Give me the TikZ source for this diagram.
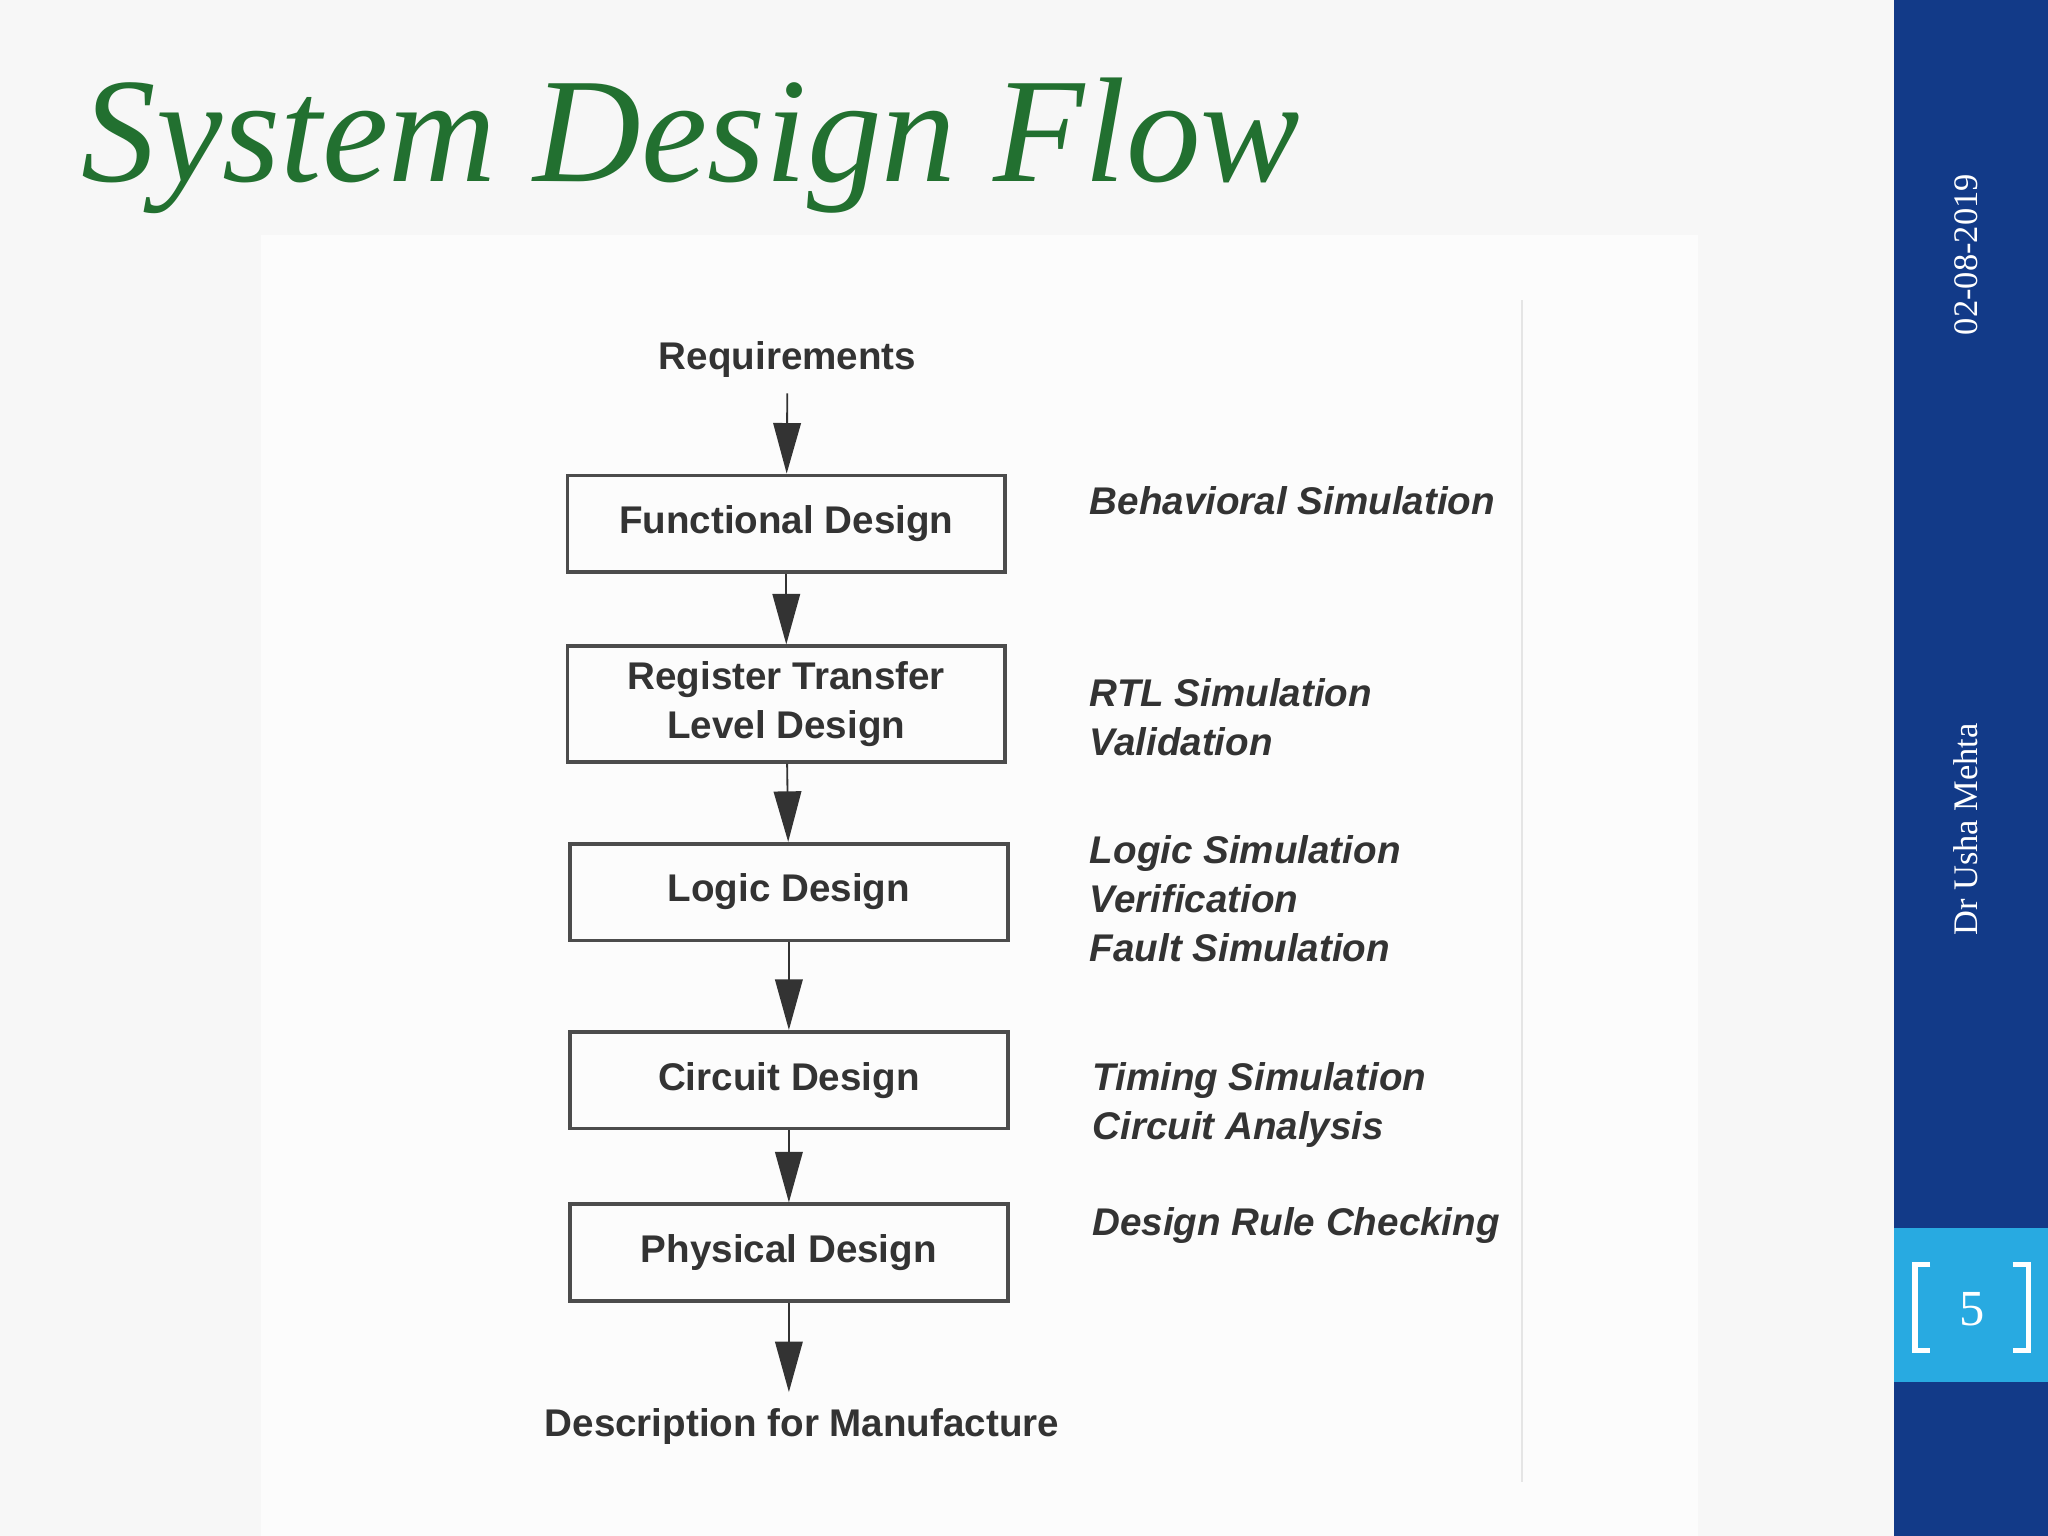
\documentclass[tikz,border=0pt]{standalone}
\usepackage{fontspec}
\setmainfont{Liberation Sans}
\newfontfamily\titlefont{Liberation Serif}
\usetikzlibrary{positioning,arrows.meta}
\definecolor{titlegreen}{RGB}{34,112,48}
\definecolor{bandblue}{RGB}{18,58,136}
\definecolor{pageblue}{RGB}{40,170,225}
\begin{document}
\begin{tikzpicture}[x=0.01cm,y=-0.01cm,
    stage/.style={draw=black!70, thick, minimum width=3.35cm, minimum height=0.74cm, align=center, font=\fontsize{8.4}{10}\selectfont\bfseries, text=black!80},
    note/.style={anchor=west, align=left, font=\fontsize{8.4}{10.6}\selectfont\bfseries\itshape, text=black!80},
    flow/.style={-{Triangle[length=11pt,width=6pt]}, black!80}]
    
    % background and side band
    \fill[black!3] (0,0) rectangle (1568,1176);
    \fill[black!1] (200,180) rectangle (1300,1176);
    \draw[black!10] (1165,230) -- (1165,1135);
    \fill[bandblue] (1450,0) rectangle (1568,1176);
    \fill[pageblue] (1450,940) rectangle (1568,1058);
    \draw[white, line width=1.2pt] (1478,968) -- (1466,968) -- (1466,1034) -- (1478,1034);
    \draw[white, line width=1.2pt] (1541,968) -- (1553,968) -- (1553,1034) -- (1541,1034);
    \node[white, font=\titlefont\fontsize{11}{13}\selectfont] (page) at (1510,1002) {5};
    \node[white, rotate=90, font=\titlefont\fontsize{7.5}{8}\selectfont] (date) at (1505,195) {02-08-2019};
    \node[white, rotate=90, font=\titlefont\fontsize{7.5}{8}\selectfont] (author) at (1505,635) {Dr Usha Mehta};
    
    % title
    \node[anchor=west, text=titlegreen, font=\titlefont\itshape\fontsize{32.5}{38}\selectfont] (title) at (50,112) {System Design Flow};
    
    % flow
    \node[font=\fontsize{8.4}{10}\selectfont\bfseries, text=black!80] (req) at (603,275) {Requirements};
    \node[stage] (func) at (602,401) {Functional Design};
    \node[stage, minimum height=0.84cm, font=\fontsize{8.4}{10.6}\selectfont\bfseries] (rtl) at (602,539) {Register Transfer\\Level Design};
    \node[stage] (logic) at (604,683) {Logic Design};
    \node[stage] (circ) at (604,827) {Circuit Design};
    \node[stage] (phys) at (604,959) {Physical Design};
    \node[font=\fontsize{8.4}{10}\selectfont\bfseries, text=black!80] (manu) at (614,1092) {Description for Manufacture};
    
    \draw[flow] (req) -- (func);
    \draw[flow] (func) -- (rtl);
    \draw[flow] (rtl) -- (logic);
    \draw[flow] (logic) -- (circ);
    \draw[flow] (circ) -- (phys);
    \draw[flow] (phys.south) -- (phys.south |- manu.north);
    
    % checks
    \node[note] (behav) at (822,383) {Behavioral Simulation};
    \node[note] (rtlsim) at (822,549) {RTL Simulation\\Validation};
    \node[note] (logsim) at (822,688) {Logic Simulation\\Verification\\Fault Simulation};
    \node[note] (timing) at (824,846) {Timing Simulation\\Circuit Analysis};
    \node[note] (drc) at (824,938) {Design Rule Checking};
\end{tikzpicture}
\end{document}
